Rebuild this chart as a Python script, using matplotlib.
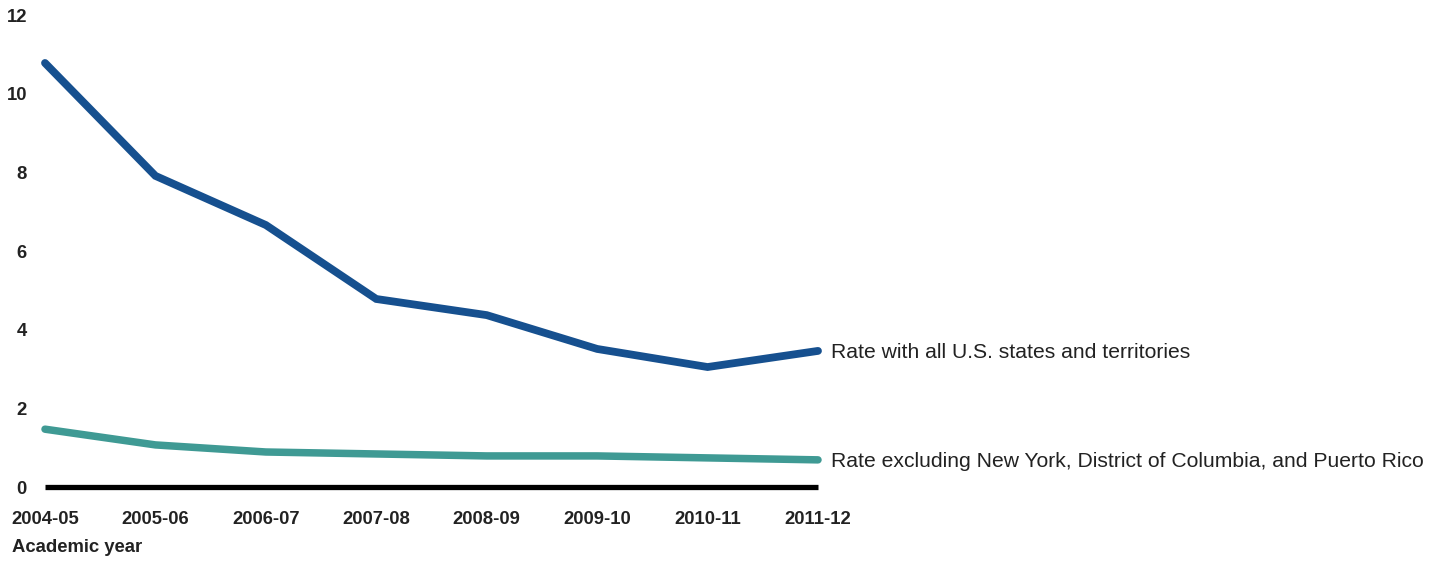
import numpy as np
import matplotlib
matplotlib.use("Agg")
import matplotlib.pyplot as plt

plt.rcParams['font.family'] = ['Liberation Sans', 'DejaVu Sans']

# Rates by academic year
years = ['2004-05', '2005-06', '2006-07', '2007-08',
         '2008-09', '2009-10', '2010-11', '2011-12']
rate_all = [10.78, 7.91, 6.66, 4.78, 4.37, 3.51, 3.05, 3.46]
rate_excl = [1.47, 1.07, 0.89, 0.84, 0.79, 0.79, 0.74, 0.69]

label_all = 'Rate with all U.S. states and territories'
label_excl = 'Rate excluding New York, District of Columbia, and Puerto Rico'

blue = '#16508f'
teal = '#3f9a94'
txt = '#222222'

W, H = 1440, 562
fig = plt.figure(figsize=(W / 100, H / 100), dpi=100)
ax = fig.add_axes([45 / W, (H - 487) / H, (818 - 45) / W, (487 - 15) / H])

x = np.arange(len(years))
ax.plot(x, rate_excl, color=teal, lw=5.4, solid_capstyle='round',
        solid_joinstyle='miter', clip_on=False, zorder=3)
ax.plot(x, rate_all, color=blue, lw=5.6, solid_capstyle='round',
        solid_joinstyle='miter', clip_on=False, zorder=3)

# zero baseline
ax.axhline(0, color='black', lw=3.8, solid_capstyle='butt',
           clip_on=False, zorder=2)

ax.set_xlim(0, len(years) - 1)
ax.set_ylim(0, 12)
ax.set_xticks(x)
ax.set_xticklabels(years)
ax.set_yticks(range(0, 13, 2))

for s in ax.spines.values():
    s.set_visible(False)
ax.tick_params(axis='both', length=0, labelsize=13.3, labelcolor=txt)
ax.tick_params(axis='y', pad=13)
ax.tick_params(axis='x', pad=17)
for lab in ax.get_xticklabels() + ax.get_yticklabels():
    lab.set_fontweight('bold')

# line labels at the right end
ax.annotate(label_all, xy=(x[-1], rate_all[-1]), xytext=(9.4, -1.5),
            textcoords='offset points', va='center', ha='left',
            fontsize=15.2, color=txt, annotation_clip=False)
ax.annotate(label_excl, xy=(x[-1], rate_excl[-1]), xytext=(9.4, -1.5),
            textcoords='offset points', va='center', ha='left',
            fontsize=15.2, color=txt, annotation_clip=False)

fig.text(12 / W, 1 - 548 / H, 'Academic year', fontsize=13.3,
         fontweight='bold', color=txt, va='center', ha='left')

fig.savefig('out.png', dpi=100)
